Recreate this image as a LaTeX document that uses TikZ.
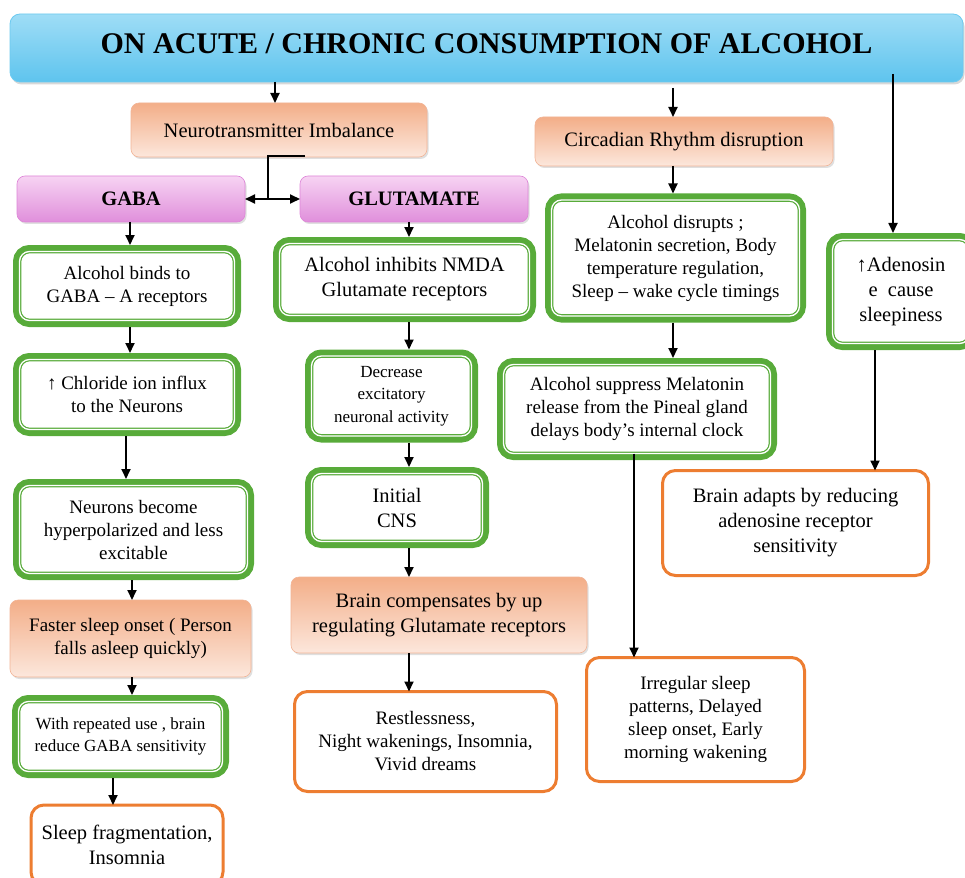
\documentclass[tikz,border=0pt]{standalone}
\usepackage{fontspec}
\setmainfont{Liberation Serif}
\usetikzlibrary{arrows.meta,shadows}
\definecolor{gcol}{HTML}{58AB3A}
\definecolor{ocol}{HTML}{ED7D31}
\definecolor{stop}{HTML}{F3AE88}
\definecolor{sbot}{HTML}{FCE7DC}
\definecolor{sline}{HTML}{F2B496}
\definecolor{ptop}{HTML}{F7D3F3}
\definecolor{pbot}{HTML}{E08FDB}
\definecolor{pline}{HTML}{DE86D8}
\definecolor{btop}{HTML}{9FDDF6}
\definecolor{bmid}{HTML}{D3F0FB}
\definecolor{bbot}{HTML}{5EC4EE}
\definecolor{bline}{HTML}{6CCAF0}
\newcommand\fsA{\fontsize{19}{23}\selectfont}
\newcommand\fsB{\fontsize{20.5}{25}\selectfont}
\newcommand\fsC{\fontsize{17}{22.5}\selectfont}
\newcommand\fsT{\fontsize{30}{34}\selectfont}
\begin{document}
\begin{tikzpicture}[x=1pt,y=-1pt,
  box/.style={align=center, inner sep=2pt, outer sep=0pt, text=black},
  gbox/.style={box, rounded corners=10pt, draw=gcol, line width=1.2pt, double=white,
    double distance=1.3pt, fill=white, preaction={draw=gcol, line width=13pt}},
  obox/.style={box, rounded corners=13pt, draw=ocol, line width=3pt, fill=white},
  sbox/.style={box, rounded corners=8pt, draw=sline, line width=.6pt,
    top color=stop, bottom color=sbot,
    drop shadow={opacity=.25, shadow xshift=1.5pt, shadow yshift=-2pt}},
  pbox/.style={box, rounded corners=8pt, draw=pline, line width=.6pt,
    top color=ptop, bottom color=pbot,
    drop shadow={opacity=.25, shadow xshift=1.5pt, shadow yshift=-2pt}},
  tbox/.style={box, rounded corners=10pt, draw=bline, line width=.8pt,
    top color=btop, middle color=bmid, bottom color=bbot,
    drop shadow={opacity=.3, shadow xshift=1.5pt, shadow yshift=-2.5pt}},
  arr/.style={-{Triangle[length=10pt,width=9pt]}, line width=1.8pt},
  ln/.style={line width=1.8pt},
  gs/.style={shorten <=6.5pt},
  ge/.style={shorten >=6.5pt}
]
\useasboundingbox (0,0) rectangle (965,877);
\clip (0,0) rectangle (965,877);
\fill[white] (0,0) rectangle (965,877);

% title
\node[tbox, minimum width=953pt, minimum height=68pt, text depth=8pt, font=\fsT\bfseries] (T) at (486.5,48) {ON ACUTE / CHRONIC CONSUMPTION OF ALCOHOL};

% level 1
\node[sbox, minimum width=296pt, minimum height=54pt, font=\fsB] (NT) at (279,130) {Neurotransmitter Imbalance};
\node[sbox, minimum width=298pt, minimum height=49pt, font=\fsB] (CR) at (684,141.5) {Circadian Rhythm disruption};

\node[pbox, minimum width=228pt, minimum height=46pt, font=\fsB\bfseries] (GABA) at (131,199) {GABA};
\node[pbox, minimum width=228pt, minimum height=46pt, font=\fsB\bfseries] (GLU) at (414,199) {GLUTAMATE};

% GABA column
\node[gbox, minimum width=215pt, minimum height=69pt, font=\fsA] (g1) at (127,286) {Alcohol binds to\\GABA – A receptors};
\node[gbox, minimum width=215pt, minimum height=70pt, font=\fsA] (g2) at (127,394.5) {↑ Chloride ion influx\\to the Neurons};
\node[gbox, minimum width=228pt, minimum height=88pt, font=\fsA] (g3) at (133.5,529.5) {Neurons become\\hyperpolarized and less\\excitable};
\node[sbox, minimum width=241pt, minimum height=77pt, font=\fsA] (s1) at (130.5,638.5) {Faster sleep onset ( Person\\falls asleep quickly)};
\node[gbox, minimum width=204pt, minimum height=70pt, font=\fsC] (g4) at (120.5,736.5) {With repeated use , brain\\reduce GABA sensitivity};
\node[obox, minimum width=192pt, minimum height=80pt, font=\fsB] (o1) at (127,845) {Sleep fragmentation,\\Insomnia};

% GLUTAMATE column
\node[gbox, minimum width=250pt, minimum height=72pt, font=\fsB] (g5) at (404.5,279.5) {Alcohol inhibits NMDA\\Glutamate receptors};
\node[gbox, minimum width=160pt, minimum height=80pt, font=\fsC] (g6) at (391.5,396) {Decrease\\excitatory\\neuronal activity};
\node[gbox, minimum width=171pt, minimum height=68pt, font=\fsB] (g7) at (397,507.5) {Initial\\CNS};
\node[sbox, minimum width=296pt, minimum height=76pt, font=\fsB] (s2) at (439,615) {Brain compensates by up\\regulating Glutamate receptors};
\node[obox, minimum width=262pt, minimum height=100pt, font=\fsA] (o2) at (425.5,741.5) {Restlessness,\\Night wakenings, Insomnia,\\Vivid dreams};

% Circadian column
\node[gbox, minimum width=248pt, minimum height=116pt, font=\fsA] (g8) at (675.5,258) {Alcohol disrupts ;\\Melatonin secretion, Body\\temperature regulation,\\Sleep – wake cycle timings};
\node[gbox, minimum width=267pt, minimum height=89pt, font=\fsA] (g9) at (637,409) {Alcohol suppress Melatonin\\release from the Pineal gland\\delays body’s internal clock};
\node[obox, minimum width=218pt, minimum height=124pt, font=\fsA] (o3) at (695.5,719.5) {Irregular sleep\\patterns, Delayed\\sleep onset, Early\\morning wakening};

% Adenosine column
\node[gbox, minimum width=137pt, minimum height=104pt, font=\fsB] (g10) at (901,291.5) {↑Adenosin\\e~~cause\\sleepiness};
\node[obox, minimum width=266pt, minimum height=105pt, font=\fsB] (o4) at (795.5,523) {Brain adapts by reducing\\adenosine receptor\\sensitivity};

% helper coordinates
\coordinate (xA) at (130,0);
\coordinate (xB) at (126,0);
\coordinate (xC) at (132,0);
\coordinate (xD) at (113,0);
\coordinate (xE) at (409,0);
\coordinate (xF) at (673,0);
\coordinate (xG) at (634,0);
\coordinate (xH) at (875,0);
\coordinate (xJ) at (275,0);
\coordinate (crin) at (673,88);
\coordinate (adin) at (893,74);
\coordinate (j) at (268,199);
\coordinate (ntout) at (305,156);

% connectors
\draw[arr] (T.south -| xJ) -- (NT.north -| xJ);
\draw[arr] (crin) -- (CR.north -| crin);
\draw[arr, ge] (adin) -- (g10.north -| adin);

\draw[ln] (ntout) -| (j);
\draw[arr] (j) -- (GABA.east);
\draw[arr] (j) -- (GLU.west);

\draw[arr, ge] (GABA.south -| xA) -- (g1.north -| xA);
\draw[arr, gs, ge] (g1.south -| xA) -- (g2.north -| xA);
\draw[arr, gs, ge] (g2.south -| xB) -- (g3.north -| xB);
\draw[arr, gs] (g3.south -| xC) -- (s1.north -| xC);
\draw[arr, ge] (s1.south -| xC) -- (g4.north -| xC);
\draw[arr, gs] (g4.south -| xD) -- (o1.north -| xD);

\draw[arr, ge] (GLU.south -| xE) -- (g5.north -| xE);
\draw[arr, gs, ge] (g5.south -| xE) -- (g6.north -| xE);
\draw[arr, gs, ge] (g6.south -| xE) -- (g7.north -| xE);
\draw[arr, gs] (g7.south -| xE) -- (s2.north -| xE);
\draw[arr] (s2.south -| xE) -- (o2.north -| xE);

\draw[arr, ge] (CR.south -| xF) -- (g8.north -| xF);
\draw[arr, gs, ge] (g8.south -| xF) -- (g9.north -| xF);
\draw[arr] (g9.south -| xG) -- (o3.north -| xG);

\draw[arr, gs] (g10.south -| xH) -- (o4.north -| xH);
\end{tikzpicture}
\end{document}
